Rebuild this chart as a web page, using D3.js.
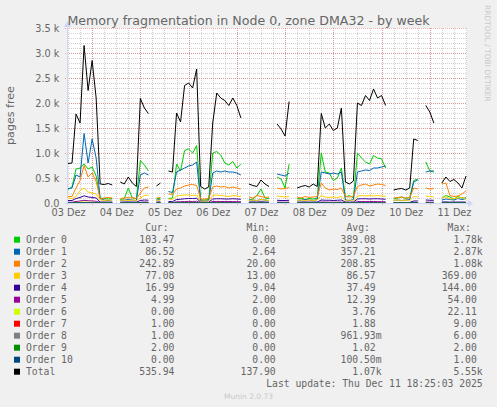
<!DOCTYPE html>
<html>
<head>
<meta charset="utf-8">
<script src="https://cdn.jsdelivr.net/npm/d3@7"></script>
<style>
  html, body { margin: 0; padding: 0; background: #f0f0f0; }
  svg { display: block; }
  text { font-family: "DejaVu Sans", sans-serif; fill: #666666; }
  text.mono { font-family: "DejaVu Sans Mono", monospace; white-space: pre; }
</style>
</head>
<body>
<svg id="chart" width="497" height="407"></svg>
<script>
// samples every 2 hours from Dec 3 12:00 (local), null = no data
const startTime = new Date(2025, 11, 3, 12, 0);
const stepHours = 2;

const order0 = [
  270, 320, 680, 700, 780, 680, 720, 540, 100, 90,
  80, 90, null, 70, 90, 300, 100, 90, 850, 760,
  640, null, 80, 100, null, 90, 100, 780, 640, 1050,
  1080, 1000, 1150, 60, 60, 70, 1000, 1030, 960, 800,
  760, 830, 700, 780, null, 60, 80, 150, 280, 100,
  90, null, 520, 480, 300, 780, null, 80, 100, 70,
  90, 80, 100, 1000, 620, 600, 450, 500, 700, 120,
  150, 100, 1000, 900, 820, 780, 950, 900, 880, 700,
  null, 80, 100, 120, 90, 110, 450, 480, null, 820,
  640, 620, null, 100, 150, 120, 80, 130, 100, 103
];
const order1 = [
  290, 300, 560, 520, 1390, 800, 1280, 900, 90, 60,
  50, 60, null, 50, 60, 70, 60, 50, 560, 600,
  560, null, 60, 70, null, 230, 210, 620, 660, 700,
  740, 760, 820, 40, 40, 50, 600, 640, 620, 640,
  620, 620, 600, 560, null, 60, 60, 50, 70, 60,
  50, null, 580, 560, 540, 600, null, 50, 60, 70,
  60, 50, 70, 620, 600, 580, 600, 580, 620, 60,
  50, 70, 620, 640, 660, 650, 700, 700, 720, 740,
  null, 50, 60, 50, 60, 70, 420, 460, null, 620,
  640, 640, null, 60, 80, 70, 60, 90, 70, 87
];
const order2 = [
  130, 130, 300, 450, 750, 520, 600, 430, 80, 100,
  110, 100, null, 90, 100, 110, 100, 90, 200, 300,
  320, null, 100, 110, null, 180, 170, 280, 300, 340,
  360, 370, 350, 80, 80, 90, 320, 340, 320, 330,
  300, 320, 300, 280, null, 120, 100, 150, 130, 110,
  120, null, 300, 280, 290, 310, null, 120, 100, 130,
  110, 120, 130, 400, 300, 260, 280, 270, 300, 130,
  120, 140, 330, 360, 380, 340, 360, 380, 370, 350,
  null, 100, 110, 120, 100, 110, 300, 280, null, 300,
  280, 290, null, 380, 400, 150, 130, 140, 180, 243
];
const order3 = [
  100, 90, 130, 250, 300, 220, 200, 180, 60, 50,
  60, 50, null, 50, 60, 50, 60, 50, 100, 150,
  160, null, 50, 60, null, 80, 70, 140, 150, 160,
  160, 150, 160, 30, 40, 40, 150, 160, 150, 140,
  130, 150, 140, 130, null, 50, 60, 50, 70, 60,
  50, null, 140, 130, 120, 130, null, 50, 60, 50,
  60, 50, 60, 150, 120, 110, 120, 110, 130, 50,
  60, 50, 140, 150, 140, 150, 140, 150, 140, 130,
  null, 50, 60, 50, 60, 50, 130, 120, null, 140,
  130, 120, null, 110, 120, 80, 90, 100, 110, 77
];
const order4 = [
  50, 50, 90, 110, 144, 120, 110, 100, 20, 20,
  18, 20, null, 18, 20, 22, 20, 18, 50, 60,
  55, null, 20, 22, null, 30, 28, 70, 75, 85,
  90, 90, 95, 15, 14, 15, 80, 85, 85, 80,
  80, 85, 80, 75, null, 20, 22, 20, 25, 20,
  18, null, 55, 50, 50, 55, null, 18, 20, 22,
  18, 20, 20, 60, 55, 55, 50, 55, 60, 20,
  18, 20, 80, 85, 85, 80, 85, 85, 80, 75,
  null, 12, 10, 12, 10, 12, 40, 40, null, 60,
  55, 55, null, 20, 22, 18, 20, 18, 20, 17
];
const order5 = [
  15, 15, 30, 40, 54, 45, 40, 35, 5, 4,
  5, 4, null, 5, 4, 6, 5, 4, 15, 20,
  18, null, 4, 5, null, 8, 7, 25, 25, 30,
  32, 30, 35, 3, 2, 3, 30, 32, 30, 28,
  30, 28, 26, 25, null, 4, 5, 4, 6, 5,
  4, null, 18, 16, 15, 18, null, 4, 5, 4,
  5, 4, 5, 20, 18, 16, 15, 16, 18, 5,
  4, 5, 28, 30, 28, 30, 30, 28, 26, 25,
  null, 3, 2, 3, 2, 3, 12, 12, null, 18,
  16, 15, null, 5, 6, 5, 4, 5, 5, 5
];
const order6 = [
  4, 4, 10, 14, 22, 16, 14, 12, 1, 0,
  1, 0, null, 1, 0, 1, 1, 0, 5, 6,
  6, null, 0, 1, null, 2, 2, 8, 8, 10,
  12, 11, 12, 0, 0, 0, 10, 11, 10, 9,
  9, 10, 9, 8, null, 1, 0, 1, 2, 1,
  0, null, 5, 5, 4, 6, null, 0, 1, 0,
  1, 0, 1, 6, 5, 5, 4, 5, 6, 1,
  0, 1, 9, 10, 10, 9, 10, 9, 9, 8,
  null, 0, 0, 0, 0, 0, 3, 3, null, 5,
  4, 4, null, 1, 1, 0, 0, 1, 0, 0
];
const order7 = [
  2, 2, 4, 6, 9, 7, 6, 5, 0, 0,
  0, 1, null, 0, 0, 1, 0, 0, 2, 3,
  2, null, 0, 0, null, 1, 1, 3, 4, 4,
  5, 4, 5, 0, 0, 0, 4, 4, 4, 3,
  4, 4, 3, 3, null, 0, 1, 0, 1, 0,
  0, null, 2, 2, 2, 3, null, 0, 0, 1,
  0, 0, 1, 3, 2, 2, 2, 2, 3, 0,
  1, 0, 4, 4, 4, 4, 5, 4, 4, 3,
  null, 0, 0, 0, 0, 0, 1, 1, null, 2,
  2, 2, null, 1, 1, 1, 0, 1, 1, 1
];
const order8 = [
  1, 1, 2, 3, 6, 4, 3, 2, 0, 0,
  1, 0, null, 0, 0, 0, 1, 0, 1, 1,
  1, null, 0, 0, null, 0, 0, 1, 2, 2,
  2, 2, 2, 0, 0, 0, 2, 2, 2, 1,
  2, 2, 1, 1, null, 0, 0, 1, 0, 0,
  0, null, 1, 1, 1, 1, null, 0, 0, 0,
  1, 0, 0, 1, 1, 1, 1, 1, 1, 0,
  0, 0, 2, 2, 2, 2, 2, 2, 1, 1,
  null, 0, 0, 0, 0, 0, 1, 1, null, 1,
  1, 1, null, 1, 1, 1, 1, 1, 1, 1
];
const order9 = [
  1, 1, 1, 1, 2, 1, 1, 1, 1, 1,
  1, 1, null, 1, 1, 1, 1, 1, 1, 1,
  1, null, 1, 1, null, 1, 1, 1, 1, 1,
  1, 1, 1, 1, 1, 1, 1, 1, 1, 1,
  1, 1, 1, 1, null, 1, 1, 1, 1, 1,
  1, null, 1, 1, 1, 1, null, 1, 1, 1,
  1, 1, 1, 1, 1, 1, 1, 1, 1, 1,
  1, 1, 1, 1, 1, 1, 1, 1, 1, 1,
  null, 1, 1, 1, 1, 1, 1, 1, null, 1,
  1, 1, null, 1, 2, 2, 2, 2, 2, 2
];
const order10 = [
  0, 0, 0, 0, 1, 0, 0, 0, 0, 0,
  0, 0, null, 0, 0, 0, 0, 0, 0, 0,
  0, null, 0, 0, null, 0, 0, 0, 0, 0,
  1, 0, 0, 0, 0, 0, 0, 0, 0, 0,
  0, 0, 0, 0, null, 0, 0, 0, 0, 0,
  0, null, 0, 0, 0, 0, null, 0, 0, 0,
  0, 0, 0, 0, 0, 0, 0, 0, 0, 0,
  0, 0, 0, 0, 1, 0, 0, 0, 0, 0,
  null, 0, 0, 0, 0, 0, 0, 0, null, 0,
  0, 0, null, 0, 0, 0, 0, 0, 0, 0
];
const total = [
  790, 800, 1780, 1600, 3150, 2250, 2850, 2100, 380, 370,
  390, 360, null, 420, 380, 520, 400, 330, 2090, 1900,
  1790, null, 340, 400, null, 640, 620, 1800, 1620, 2350,
  2400, 2300, 2680, 330, 280, 320, 1600, 2200, 2100, 2050,
  1950, 2100, 1950, 1700, null, 380, 350, 330, 460, 380,
  330, null, 1580, 1480, 1340, 2030, null, 300, 330, 350,
  320, 380, 330, 1790, 1500, 1580, 1450, 1500, 1900, 420,
  380, 440, 2000, 1950, 2150, 2050, 2280, 2100, 2150, 1950,
  null, 260, 280, 290, 260, 300, 1280, 1250, null, 1950,
  1820, 1600, null, 400, 520, 430, 470, 400, 300, 540
];

const seriesNames = ["Order 0", "Order 1", "Order 2", "Order 3", "Order 4", "Order 5",
  "Order 6", "Order 7", "Order 8", "Order 9", "Order 10", "Total"];
const seriesColors = ["#00cc00", "#0066b3", "#ff8000", "#ffcc00", "#330099", "#990099",
  "#ccff00", "#ff0000", "#808080", "#008f00", "#00487d", "#000000"];
const seriesValues = [order0, order1, order2, order3, order4, order5,
  order6, order7, order8, order9, order10, total];

const curText = ["103.47 ", " 86.52 ", "242.89 ", " 77.08 ", " 16.99 ", "  4.99 ",
  "  0.00 ", "  1.00 ", "  1.00 ", "  2.00 ", "  0.00 ", "535.94 "];
const minText = ["  0.00 ", "  2.64 ", " 20.00 ", " 13.00 ", "  9.04 ", "  2.00 ",
  "  0.00 ", "  0.00 ", "  0.00 ", "  0.00 ", "  0.00 ", "137.90 "];
const avgText = ["389.08 ", "357.21 ", "208.85 ", " 86.57 ", " 37.49 ", " 12.39 ",
  "  3.76 ", "  1.88 ", "961.93m", "  1.02 ", "100.50m", "  1.07k"];
const maxText = ["  1.78k", "  2.87k", "  1.08k", "369.00 ", "144.00 ", " 54.00 ",
  " 22.11 ", "  9.00 ", "  6.00 ", "  2.00 ", "  1.00 ", "  5.55k"];

const dayLabels = ["03 Dez", "04 Dez", "05 Dez", "06 Dez", "07 Dez", "08 Dez", "09 Dez", "10 Dez", "11 Dez"];
const yTicks = [0, 500, 1000, 1500, 2000, 2500, 3000, 3500];

const plotLeft = 67, plotRight = 467, plotTop = 28, plotBottom = 203;

const svg = d3.select("#chart");

const x = d3.scaleTime()
    .domain([new Date(2025, 11, 3, 11, 30), new Date(2025, 11, 11, 18, 30)])
    .range([plotLeft, plotRight]);
const y = d3.scaleLinear().domain([0, 3500]).range([plotBottom, plotTop]);

const times = total.map((d, i) => new Date(+startTime + i * stepHours * 3600e3));

// canvas
svg.append("rect")
    .attr("x", plotLeft).attr("y", plotTop)
    .attr("width", plotRight - plotLeft).attr("height", plotBottom - plotTop)
    .attr("fill", "#ffffff");

// grid
const grid = svg.append("g").attr("shape-rendering", "crispEdges").attr("stroke-dasharray", "1,1");
const px = v => Math.round(v) + 0.5;
const minorColor = "rgba(143,143,143,0.42)";
const majorColor = "rgba(222,79,79,0.45)";

const minorX = d3.timeHour.every(6).range(x.domain()[0], x.domain()[1]);
const majorX = d3.timeDay.range(x.domain()[0], x.domain()[1]);
grid.selectAll(".vmin").data(minorX).join("line")
    .attr("x1", d => px(x(d))).attr("x2", d => px(x(d)))
    .attr("y1", plotTop).attr("y2", plotBottom)
    .attr("stroke", minorColor);
grid.selectAll(".hmin").data(d3.range(100, 3500, 100)).join("line")
    .attr("x1", plotLeft).attr("x2", plotRight)
    .attr("y1", d => px(y(d))).attr("y2", d => px(y(d)))
    .attr("stroke", minorColor);
grid.selectAll(".vmaj").data(majorX).join("line")
    .attr("x1", d => px(x(d))).attr("x2", d => px(x(d)))
    .attr("y1", plotTop).attr("y2", plotBottom + 2)
    .attr("stroke", majorColor);
grid.selectAll(".hmaj").data(yTicks.slice(1)).join("line")
    .attr("x1", plotLeft - 2).attr("x2", plotRight)
    .attr("y1", d => px(y(d))).attr("y2", d => px(y(d)))
    .attr("stroke", majorColor);

// axes (labels only)
const yAxis = svg.append("g")
    .attr("transform", `translate(${plotLeft},0)`)
    .call(d3.axisLeft(y).tickValues(yTicks).tickSize(0).tickPadding(7.5)
      .tickFormat(d => d === 0 ? "0.0" : (d / 1000).toFixed(1) + " k"));
const xAxis = svg.append("g")
    .attr("transform", `translate(0,${plotBottom})`)
    .call(d3.axisBottom(x)
      .tickValues(dayLabels.map((d, i) => new Date(2025, 11, 3 + i, 12)))
      .tickSize(0).tickPadding(5.7)
      .tickFormat((d, i) => dayLabels[i]));
[yAxis, xAxis].forEach(a => {
  a.select(".domain").remove();
  a.attr("font-family", null).attr("font-size", null);
  a.selectAll("text").attr("font-size", 9.72).attr("fill", "#666666");
});

// data lines
const line = d3.line()
    .defined(d => d != null)
    .x((d, i) => x(times[i]))
    .y(d => y(d));
svg.append("g")
    .attr("fill", "none")
    .attr("stroke-width", 1)
  .selectAll("path")
  .data(seriesValues)
  .join("path")
    .attr("stroke", (d, i) => seriesColors[i])
    .attr("d", line);

// axis lines + arrows
const axisColor = "#cfd6f8";
svg.append("line")
    .attr("x1", plotLeft - 2).attr("x2", plotRight + 3)
    .attr("y1", plotBottom + 0.5).attr("y2", plotBottom + 0.5)
    .attr("stroke", axisColor).attr("shape-rendering", "crispEdges");
svg.append("line")
    .attr("x1", plotLeft + 0.5).attr("x2", plotLeft + 0.5)
    .attr("y1", plotBottom + 2).attr("y2", plotTop - 5)
    .attr("stroke", axisColor).attr("shape-rendering", "crispEdges");
svg.append("path")
    .attr("d", `M${plotRight + 1},${plotBottom - 3}L${plotRight + 6},${plotBottom + 0.5}L${plotRight + 1},${plotBottom + 4}Z`)
    .attr("fill", axisColor);
svg.append("path")
    .attr("d", `M${plotLeft - 3},${plotTop - 1}L${plotLeft + 0.5},${plotTop - 7}L${plotLeft + 4},${plotTop - 1}Z`)
    .attr("fill", axisColor);

// titles
svg.append("text")
    .attr("x", 248.5).attr("y", 24.5)
    .attr("text-anchor", "middle")
    .attr("font-size", 12.6)
    .text("Memory fragmentation in Node 0, zone DMA32 - by week");
svg.append("text")
    .attr("transform", "translate(13.5,115.5) rotate(-90)")
    .attr("text-anchor", "middle")
    .attr("font-size", 11.1)
    .text("pages free");
svg.append("text")
    .attr("transform", "translate(485,5) rotate(90)")
    .attr("font-size", 7.5)
    .style("fill", "#c8c8c8")
    .text("RRDTOOL / TOBI OETIKER");

// legend
const legend = svg.append("g").attr("font-size", 9.72);
const colX = [139.3, 240.6, 340.6, 441.7];
const colHead = ["Cur:", "Min:", "Avg:", "Max:"];
const colText = [curText, minText, avgText, maxText];
colHead.forEach((h, c) => {
  legend.append("text").attr("class", "mono")
      .attr("x", colX[c] + 5.85).attr("y", 230.8).text(h);
});
seriesNames.forEach((name, i) => {
  const by = 242.8 + i * 12;
  legend.append("rect")
      .attr("x", 14).attr("y", by - 6.1)
      .attr("width", 6).attr("height", 6)
      .attr("fill", seriesColors[i]);
  legend.append("text").attr("class", "mono")
      .attr("x", 26).attr("y", by).text(name);
  colText.forEach((col, c) => {
    legend.append("text").attr("class", "mono")
        .attr("xml:space", "preserve")
        .attr("x", colX[c]).attr("y", by).text(col[i]);
  });
});
legend.append("text").attr("class", "mono")
    .attr("x", 482.7).attr("y", 386.8)
    .attr("text-anchor", "end")
    .text("Last update: Thu Dec 11 18:25:03 2025");

svg.append("text")
    .attr("x", 248.5).attr("y", 399)
    .attr("text-anchor", "middle")
    .attr("font-size", 7.5)
    .style("fill", "#c8c8c8")
    .text("Munin 2.0.73");
</script>
</body>
</html>
